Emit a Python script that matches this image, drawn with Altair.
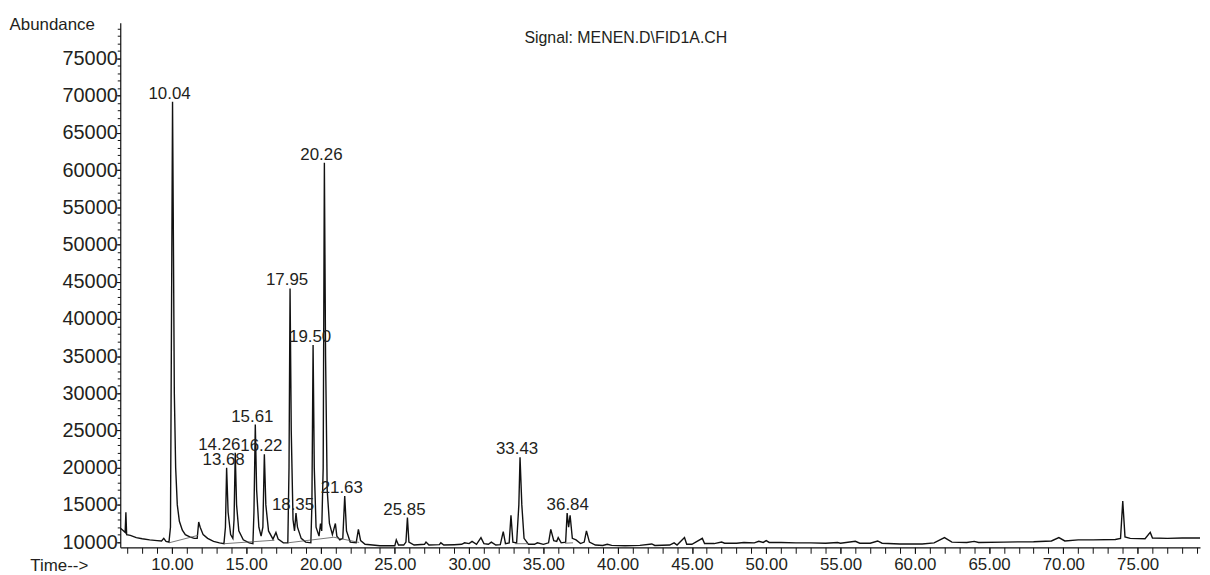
import altair as alt
import pandas as pd

# ---- chromatogram trace (time in min, abundance) ----
times = [6.52, 6.75, 6.85, 6.9, 6.95, 7.2, 7.6, 8.0, 8.5, 9.0, 9.3, 9.45, 9.6, 9.8,
         9.9, 9.97, 10.04, 10.10, 10.16, 10.25, 10.36, 10.5, 10.7, 10.9, 11.2, 11.5, 11.7,
         11.8, 11.9, 12.1, 12.4, 12.8, 13.2, 13.5, 13.6, 13.68, 13.78, 13.95, 14.1, 14.18,
         14.26, 14.35, 14.5, 14.8, 15.2, 15.45, 15.52, 15.61, 15.7, 15.85, 16.0, 16.12,
         16.22, 16.32, 16.5, 16.8, 17.0, 17.15, 17.5, 17.8, 17.88, 17.95, 18.03, 18.15,
         18.25, 18.35, 18.45, 18.7, 19.0, 19.35, 19.42, 19.50, 19.58, 19.7, 19.9, 20.0,
         20.08, 20.18, 20.26, 20.34, 20.45, 20.6, 20.8, 21.0, 21.1, 21.3, 21.5, 21.63,
         21.75, 22.0, 22.4, 22.55, 22.7, 23.0, 23.5, 24.0, 24.5, 25.0, 25.1, 25.25, 25.6,
         25.75, 25.85, 25.95, 26.3, 27.0, 27.1, 27.3, 28.0, 28.1, 28.3, 29.0, 29.5, 29.7,
         30.0, 30.2, 30.5, 30.8, 31.0, 31.3, 31.5, 31.8, 32.1, 32.3, 32.45, 32.7, 32.82,
         32.95, 33.2, 33.35, 33.43, 33.55, 33.7, 34.0, 34.4, 34.6, 35.0, 35.35, 35.5, 35.7,
         35.9, 36.0, 36.2, 36.5, 36.6, 36.7, 36.8, 36.95, 37.2, 37.5, 37.75, 37.9, 38.1,
         38.5, 39.0, 39.3, 39.6, 40.5, 41.5, 42.3, 42.5, 43.5, 43.8, 44.0, 44.5, 44.65,
         45.0, 45.7, 45.85, 46.5, 47.0, 47.2, 48.0, 48.5, 49.2, 49.5, 49.8, 50.0, 50.2,
         51.0, 52.0, 53.0, 54.0, 54.8, 55.0, 56.0, 56.3, 57.0, 57.5, 57.8, 59.0, 60.5,
         61.3, 62.0, 62.5, 63.5, 64.0, 64.3, 66.0, 68.0, 69.2, 69.7, 70.1, 71.0, 72.0,
         73.5, 73.85, 74.0, 74.15, 74.5, 75.5, 75.85, 76.0, 77.0, 78.0, 79.2]
abundance = [11900, 11500, 11300, 14000, 11000, 10900, 10600, 10450, 10300, 10200, 10150, 10500, 10100, 10000,
             12000, 40000, 69200, 50000, 30000, 20000, 15000, 12800, 11600, 11000, 10700, 10500, 10500,
             12700, 12000, 11000, 10500, 10100, 9900, 9800, 12000, 20000, 14000, 11000, 10500, 13000,
             22000, 15000, 11500, 10300, 9900, 9800, 14000, 25800, 17000, 12000, 10800, 12000,
             21800, 15000, 11500, 10400, 11300, 10400, 9900, 9900, 20000, 44100, 25000, 13000,
             11500, 13900, 12000, 10500, 10000, 9900, 15000, 36500, 20000, 12000, 10800, 12500,
             11500, 20000, 61000, 35000, 17000, 12500, 11000, 12500, 10800, 10300, 10500, 16200,
             11500, 10000, 9900, 11700, 10200, 9700, 9600, 9500, 9500, 9500, 10300, 9600, 9600,
             10000, 13300, 10000, 9600, 9700, 10000, 9600, 9650, 9900, 9600, 9650, 9700, 9900,
             9800, 10100, 9700, 10600, 9800, 9700, 10000, 9600, 9650, 11400, 9800, 9900, 13600,
             10000, 9900, 15000, 21400, 15000, 10500, 9700, 9700, 9900, 9700, 9900, 11700, 10200,
             10100, 10600, 9900, 10000, 13900, 12000, 13600, 10500, 10300, 9800, 10000, 11500, 10000,
             9600, 9550, 9700, 9550, 9500, 9550, 9750, 9550, 9600, 9900, 9600, 10600, 9700,
             9700, 10500, 9800, 9800, 10000, 9850, 9850, 9950, 9900, 10100, 9950, 10200, 9950,
             9950, 9900, 9900, 9850, 9950, 9850, 10100, 9850, 9850, 10150, 9850, 9750, 9750,
             9900, 10600, 10000, 9950, 10100, 9950, 10000, 10050, 10150, 10600, 10150, 10300, 10300,
             10350, 10500, 15500, 10700, 10500, 10450, 11300, 10550, 10500, 10550, 10550]

# ---- integration baseline segments ----
base_seg = ["a", "a", "b", "b", "c", "c", "c", "d", "d", "e", "e"]
base_t = [9.8, 11.75, 13.5, 16.9, 17.8, 20.9, 22.6, 33.1, 34.0, 36.45, 37.0]
base_v = [9900, 10900, 9780, 10250, 9900, 10650, 9950, 9780, 9780, 9850, 9900]

# ---- peak labels ----
peak_label = ["10.04", "13.68", "14.26", "15.61", "16.22", "17.95", "18.35", "19.50",
              "20.26", "21.63", "25.85", "33.43", "36.84"]
peak_t = [10.04, 13.68, 14.26, 15.61, 16.22, 17.95, 18.35, 19.50, 20.26, 21.63, 25.85, 33.43, 36.84]
peak_v = [69200, 20000, 22000, 25800, 21800, 44100, 13900, 36500, 61000, 16200, 13300, 21400, 13900]

x_major = [10, 15, 20, 25, 30, 35, 40, 45, 50, 55, 60, 65, 70, 75]
x_minor = list(range(7, 80))
y_major = [10000, 15000, 20000, 25000, 30000, 35000, 40000, 45000, 50000, 55000, 60000, 65000, 70000, 75000]
y_minor = list(range(10000, 80000, 1000))

FONT = "Liberation Sans"
TXT = "#231f20"
X_DOM = [6.52, 79.2]
Y_DOM = [9300, 79800]

trace_df = pd.DataFrame({"t": times, "v": abundance})
base_df = pd.DataFrame({"seg": base_seg, "t": base_t, "v": base_v})
lab_df = pd.DataFrame({"label": peak_label, "t": peak_t, "v": peak_v})

xs = alt.Scale(domain=X_DOM, nice=False, zero=False)
ys = alt.Scale(domain=Y_DOM, nice=False, zero=False)

x_axis = alt.Axis(
    orient="bottom", values=x_major, format=".2f", tickSize=6, labelFontSize=17, labelPadding=3,
    title="Time-->", titleAngle=0, titleAlign="left", titleBaseline="alphabetic",
    titleX=-91, titleY=23, titleFontSize=17, titleFontWeight="normal")
y_axis = alt.Axis(
    orient="left", values=y_major, format="d", tickSize=4, labelFontSize=20, labelPadding=-1,
    title="Abundance", titleAngle=0, titleAlign="left", titleBaseline="alphabetic",
    titleX=-112, titleY=7, titleFontSize=17, titleFontWeight="normal")
x_axis_minor = alt.Axis(orient="bottom", values=x_minor, labelExpr="''", tickSize=6,
                        domainOpacity=0, title="")
y_axis_minor = alt.Axis(orient="left", values=y_minor, labelExpr="''", tickSize=3,
                        domainOpacity=0, title="")

trace = alt.Chart(trace_df).mark_line(color="#111111", strokeWidth=1.4, clip=True).encode(
    x=alt.X("t:Q", scale=xs, axis=x_axis),
    y=alt.Y("v:Q", scale=ys, axis=y_axis),
)

base_lines = alt.Chart(base_df).mark_line(color="#555555", strokeWidth=0.8, clip=True).encode(
    x=alt.X("t:Q", scale=xs, axis=x_axis_minor),
    y=alt.Y("v:Q", scale=ys, axis=y_axis_minor),
    detail="seg:N",
)

labels = alt.Chart(lab_df).transform_filter(alt.datum.label != "14.26").mark_text(
    font=FONT, fontSize=17, color=TXT, baseline="alphabetic", align="center", dx=-3, dy=-3
).encode(x=alt.X("t:Q", scale=xs, axis=None), y=alt.Y("v:Q", scale=ys, axis=None), text="label:N")

label_1426 = alt.Chart(lab_df).transform_filter(alt.datum.label == "14.26").mark_text(
    font=FONT, fontSize=17, color=TXT, baseline="alphabetic", align="center", dx=-16, dy=-3
).encode(x=alt.X("t:Q", scale=xs, axis=None), y=alt.Y("v:Q", scale=ys, axis=None), text="label:N")

signal = alt.Chart(pd.DataFrame({"s": ["Signal: MENEN.D\\FID1A.CH"]})).mark_text(
    font=FONT, fontSize=16, color=TXT, align="center", baseline="middle"
).encode(x=alt.value(509), y=alt.value(15), text="s:N")

chart = alt.layer(trace, base_lines, labels, label_1426, signal).resolve_axis(
    x="independent", y="independent"
).properties(
    width=1087, height=528,
    autosize=alt.AutoSizeParams(type="none"),
    padding={"left": 113, "top": 13, "right": 2, "bottom": 26},
).configure_view(stroke=None).configure_axis(
    labelFont=FONT, titleFont=FONT, labelColor=TXT, titleColor=TXT,
    domainColor="#111111", tickColor="#111111", grid=False, domainWidth=1.2, tickWidth=1
)

chart.save("out.html", embed_options={"renderer": "svg", "actions": False})
